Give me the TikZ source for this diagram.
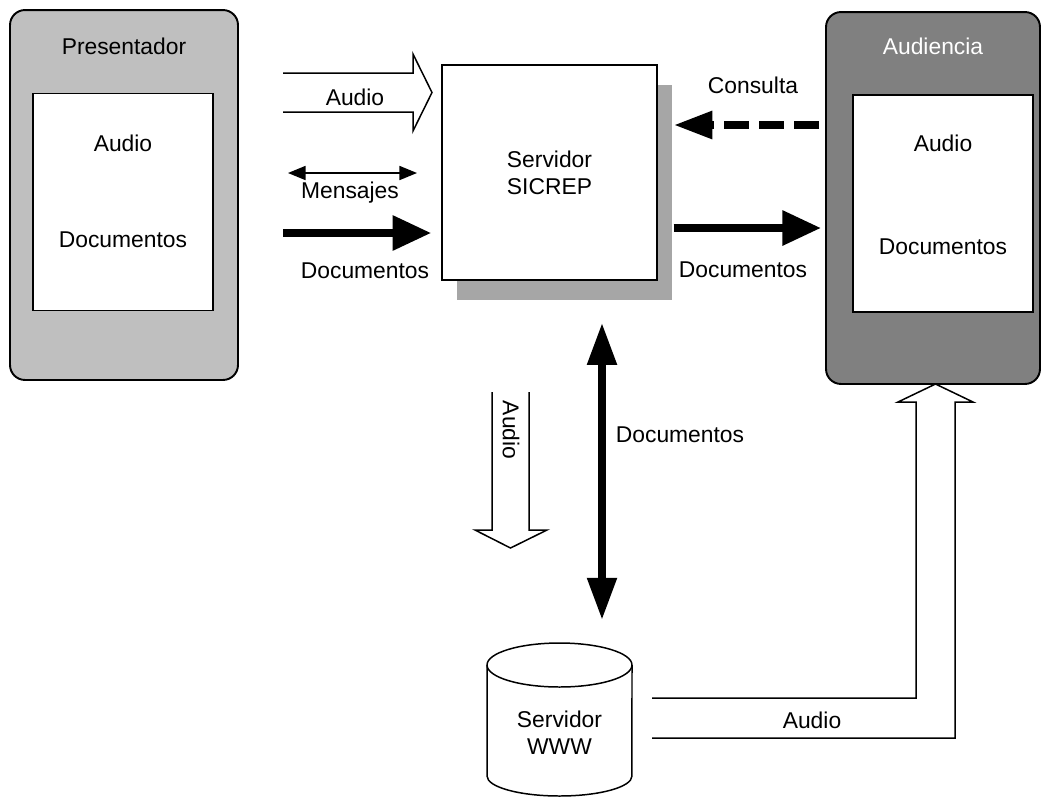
\documentclass[tikz,border=0pt]{standalone}
\usepackage{fontspec}
\setmainfont{Liberation Sans}
\usetikzlibrary{arrows.meta,positioning,calc,shadows}

\begin{document}
\begin{tikzpicture}[x=0.02cm,y=-0.02cm,
  lbl/.style={font=\fontsize{13}{15.5}\selectfont,inner sep=1pt},
  outerbox/.style={draw,line width=1.1pt,rounded corners=8.5pt,minimum width=4.56cm,minimum height=7.4cm},
  innerbox/.style={draw,fill=white,line width=0.85pt,minimum width=3.6cm,minimum height=4.34cm},
  fat/.style={line width=4.5pt,-{Triangle[length=22pt,width=19pt]}},
  hollow/.style={draw,fill=white,line width=0.85pt,line join=miter}]
\useasboundingbox (0,0) rectangle (1042,799);

% Presentador
\node[outerbox,fill=black!25] (pres) at (124,195) {};
\node[lbl] (prestit) at (124,46) {Presentador};
\node[innerbox] (pin) at (123,202) {};
\node[lbl] (paud) at ($(pin.center)+(0,-59)$) {Audio};
\node[lbl] (pdoc) at ($(pin.center)+(0,38)$) {Documentos};

% Servidor SICREP
\node[draw,fill=white,line width=0.85pt,minimum width=4.3cm,minimum height=4.3cm,
  drop shadow={shadow xshift=0.3cm,shadow yshift=-0.4cm,fill=black!35,opacity=1},
  lbl,align=center] (srv) at (549.5,172.5) {Servidor\\SICREP};

% Audiencia
\node[outerbox,fill=black!50,minimum width=4.28cm,minimum height=7.44cm] (aud) at (933,198) {};
\node[lbl,text=white] (audtit) at (933,46) {Audiencia};
\node[innerbox] (ain) at (943,203.5) {};
\node[lbl] (aaud) at ($(ain.center)+(0,-60)$) {Audio};
\node[lbl] (adoc) at ($(ain.center)+(0,43)$) {Documentos};

% Servidor WWW
\draw[line width=0.85pt,fill=white] (487,665) -- (487,776)
  arc[start angle=180,end angle=360,x radius=1.45cm,y radius=0.4cm] -- (632,665);
\draw[line width=0.85pt,fill=white] (559.5,665) ellipse[x radius=1.45cm,y radius=0.44cm];
\node[lbl,align=center] (www) at (559.5,733) {Servidor\\WWW};

% flechas huecas (audio)
\draw[hollow] (283,73) -- (413,73) -- (413,54) -- (432,92.5) -- (413,131) -- (413,112) -- (283,112);
\node[lbl] (la1) at (355,97) {Audio};
\draw[hollow] (492,392) -- (492,530) -- (475,530) -- (510.5,548) -- (547,530) -- (529,530) -- (529,392);
\node[lbl,rotate=-90] (la2) at (511,430) {Audio};
\draw[hollow] (652,698) -- (916,698) -- (916,402) -- (898,402) -- (935.5,384)
  -- (973,402) -- (955,402) -- (955,738) -- (652,738);
\node[lbl] (la3) at (812,720) {Audio};

% mensajes
\coordinate (ml) at (288,173);
\coordinate (mr) at (417,173);
\draw[line width=0.85pt,{Triangle[length=10pt,width=8pt]}-{Triangle[length=10pt,width=8pt]}] (ml) -- (mr);
\node[lbl] (lmen) at (350,193) {Mensajes};

% documentos
\coordinate (dl) at (283,233);
\draw[fat,shorten >=5.7pt] (dl) -- (dl -| srv.west);
\node[lbl] (ldoc1) at (365,271) {Documentos};
\draw[fat] ($(srv.east|-0,228)+(16,0)$) -- ($(aud.west|-0,228)+(-4,0)$);
\node[lbl] (ldoc2) at (743,270) {Documentos};
\draw[line width=4.5pt,{Triangle[length=24pt,width=16pt]}-{Triangle[length=24pt,width=16pt]}]
  ($(srv.south)+(52.5,42)$) -- (602,620);
\node[lbl] (ldoc3) at (680,435) {Documentos};

% consulta
\draw[fat,dash pattern=on 14pt off 6pt,-{Triangle[length=22pt,width=15pt]}]
  ($(aud.west|-0,125)+(-6,0)$) -- ($(srv.east|-0,125)+(16,0)$);
\node[lbl] (lcon) at (753,85) {Consulta};
\end{tikzpicture}
\end{document}
